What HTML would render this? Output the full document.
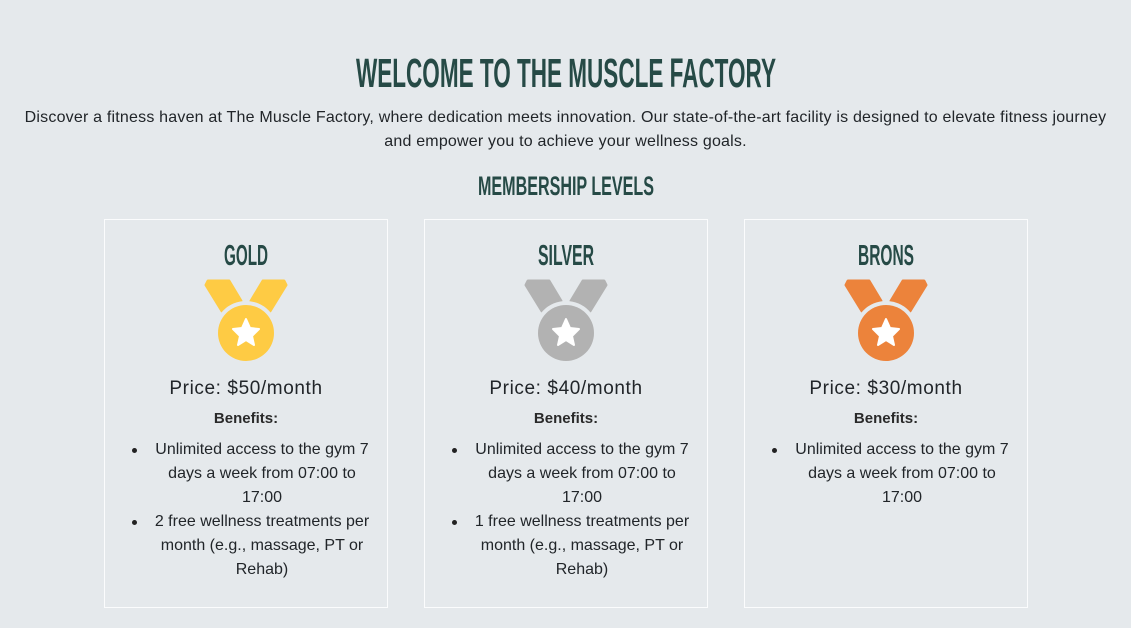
<!DOCTYPE html>
<html><head><meta charset="utf-8">
<style>
*{box-sizing:border-box;margin:0;padding:0}
body{width:1131px;height:628px;background:#e5e9ec;font-family:"Liberation Sans",sans-serif;color:#212529;position:relative;overflow:hidden}
.abs{position:absolute}
.intro{left:0;width:1131px;top:106px;text-align:center;font-size:16px;line-height:24px;white-space:nowrap;letter-spacing:0.2px}
.card{top:219px;width:284px;height:389px;border:1px solid #fbfcfd}
.price{position:absolute;top:378px;width:284px;text-align:center;font-size:19px;letter-spacing:0.6px}
.ben{position:absolute;top:410px;width:284px;text-align:center;font-size:15px;font-weight:bold;color:#2a2a2a}
ul.list{position:absolute;top:438px;list-style:none}
ul.list li{position:relative;text-align:center;font-size:16px;line-height:24px;white-space:nowrap;width:220px}
ul.list li:before{content:"";position:absolute;left:-20px;top:10px;width:5px;height:5px;border-radius:50%;background:#222}
</style></head><body>
<svg class="abs" style="left:0;top:0" width="1131" height="628">
<g font-family="'Liberation Sans Narrow','Liberation Sans',sans-serif" font-weight="bold" fill="#264a46">
<text x="356" y="87" font-size="41" textLength="420" lengthAdjust="spacingAndGlyphs">WELCOME TO THE MUSCLE FACTORY</text>
<text x="478" y="195" font-size="27" textLength="176" lengthAdjust="spacingAndGlyphs">MEMBERSHIP LEVELS</text>
<text x="224" y="265" font-size="29" textLength="44" lengthAdjust="spacingAndGlyphs">GOLD</text>
<text x="538" y="265" font-size="29" textLength="56" lengthAdjust="spacingAndGlyphs">SILVER</text>
<text x="858" y="265" font-size="29" textLength="56" lengthAdjust="spacingAndGlyphs">BRONS</text>
</g>
<defs>
<g id="medal">
<path d="M-38,-52 L-17,-52 L-5,-32 L-24,-22 L-40,-48 Z M38,-52 L17,-52 L5,-32 L24,-22 L40,-48 Z" stroke-linejoin="round" stroke-width="3"/>
<circle cx="0" cy="0" r="32" fill="#e5e9ec" stroke="none"/>
<circle cx="0" cy="0" r="28" stroke="none"/>
<path fill="#fff" d="M0,-14 L4,-5 L13,-4 L6,3 L8,12 L0,7 L-8,12 L-6,3 L-13,-4 L-4,-5 Z" stroke="#fff" stroke-width="2" stroke-linejoin="round"/>
</g>
</defs>
<use href="#medal" x="246" y="333" fill="#fecb44" stroke="#fecb44"/>
<use href="#medal" x="566" y="333" fill="#b2b2b2" stroke="#b2b2b2"/>
<use href="#medal" x="886" y="333" fill="#ec833b" stroke="#ec833b"/>
</svg>
<div class="abs intro">Discover a fitness haven at The Muscle Factory, where dedication meets innovation. Our state-of-the-art facility is designed to elevate fitness journey<br>and empower you to achieve your wellness goals.</div>

<div class="abs card" style="left:104px"></div>
<div class="abs card" style="left:424px"></div>
<div class="abs card" style="left:744px"></div>

<div class="price" style="left:104px">Price: $50/month</div>
<div class="price" style="left:424px">Price: $40/month</div>
<div class="price" style="left:744px">Price: $30/month</div>
<div class="ben" style="left:104px">Benefits:</div>
<div class="ben" style="left:424px">Benefits:</div>
<div class="ben" style="left:744px">Benefits:</div>

<ul class="list" style="left:152px">
<li>Unlimited access to the gym 7<br>days a week from 07:00 to<br>17:00</li>
<li>2 free wellness treatments per<br>month (e.g., massage, PT or<br>Rehab)</li>
</ul>
<ul class="list" style="left:472px">
<li>Unlimited access to the gym 7<br>days a week from 07:00 to<br>17:00</li>
<li>1 free wellness treatments per<br>month (e.g., massage, PT or<br>Rehab)</li>
</ul>
<ul class="list" style="left:792px">
<li>Unlimited access to the gym 7<br>days a week from 07:00 to<br>17:00</li>
</ul>
</body></html>
